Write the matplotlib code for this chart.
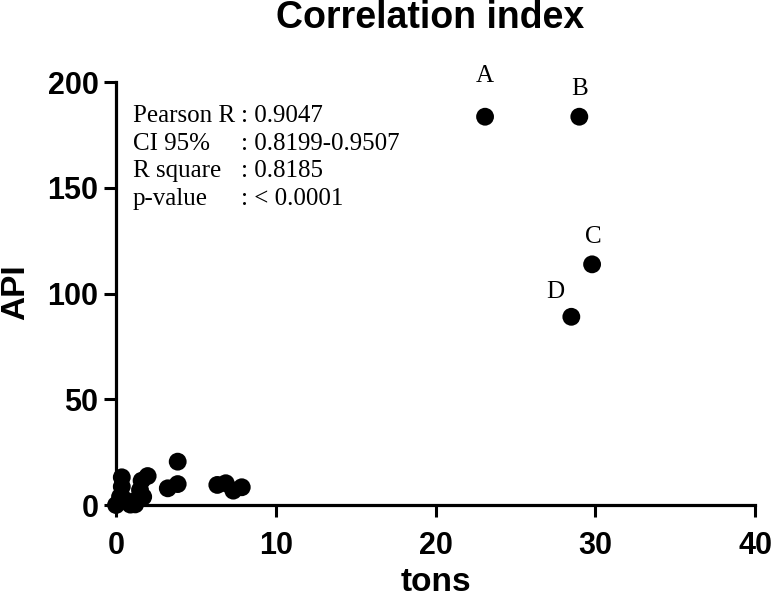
import matplotlib
matplotlib.use("Agg")
import matplotlib.pyplot as plt

# data
tons = [0.0, 0.25, 0.36, 0.56, 0.9, 1.2, 1.3, 1.5, 1.7, 0.36, 1.6, 1.98,
        3.24, 3.86, 3.86, 6.34, 6.87, 7.34, 7.87,
        23.1, 29.0, 29.8, 28.5]
api = [0.0, 3.9, 8.7, 2.4, 0.2, 0.3, 2.4, 7.1, 3.9, 13.1, 11.5, 13.7,
       7.9, 9.9, 20.5, 9.5, 10.3, 6.8, 8.4,
       183.6, 183.6, 113.8, 89.0]

labelled = ["A", "B", "C", "D"]
labelled_idx = [19, 20, 21, 22]
label_offsets = [(0, 29), (0.5, 20), (1, 19.5), (-11.5, 18)]

stat_names = ["Pearson R", "CI 95%", "R square", "p-value"]
stat_values = [": 0.9047", ": 0.8199-0.9507", ": 0.8185", ": < 0.0001"]

sans = "Liberation Sans"
serif = "Liberation Serif"

fig = plt.figure(figsize=(7.71, 6.01), dpi=100)
ax = fig.add_axes([0.1505, 0.1597, 0.8288, 0.7038])

ax.scatter(tons, api, s=165, color="black", zorder=5, clip_on=False,
           edgecolors="none")

for name, i, off in zip(labelled, labelled_idx, label_offsets):
    ax.annotate(name, (tons[i], api[i]), xytext=off, textcoords="offset points",
                ha="center", va="center", fontsize=18, family=serif)

ys = [0.905, 0.839, 0.775, 0.709]
for name, val, y in zip(stat_names, stat_values, ys):
    ax.text(0.0266, y, name, transform=ax.transAxes, fontsize=18,
            family=serif, va="baseline", ha="left")
    ax.text(0.1956, y, val, transform=ax.transAxes, fontsize=18,
            family=serif, va="baseline", ha="left")

ax.set_xlim(0, 40)
ax.set_ylim(0, 200)
ax.set_xticks([0, 10, 20, 30, 40])
ax.set_yticks([0, 50, 100, 150, 200])

for s in ["top", "right"]:
    ax.spines[s].set_visible(False)
for s in ["left", "bottom"]:
    ax.spines[s].set_linewidth(2.3)
    ax.spines[s].set_capstyle("projecting")

ax.tick_params(axis="both", direction="out", length=8.6, width=2.2,
               labelsize=22)
ax.tick_params(axis="x", pad=10)
ax.tick_params(axis="y", pad=4)
for lab in ax.get_xticklabels() + ax.get_yticklabels():
    lab.set_fontfamily(sans)
    lab.set_fontweight("bold")

fig.text(0.558, 0.953, "Correlation index", ha="center", va="baseline",
         fontsize=27, fontweight="bold", family=sans)
fig.text(0.5655, 0.016, "tons", ha="center", va="baseline",
         fontsize=24, fontweight="bold", family=sans)
fig.text(0.0208, 0.514, "API", ha="center", va="center", rotation=90,
         fontsize=24, fontweight="bold", family=sans)

fig.savefig("out.png", dpi=100)
